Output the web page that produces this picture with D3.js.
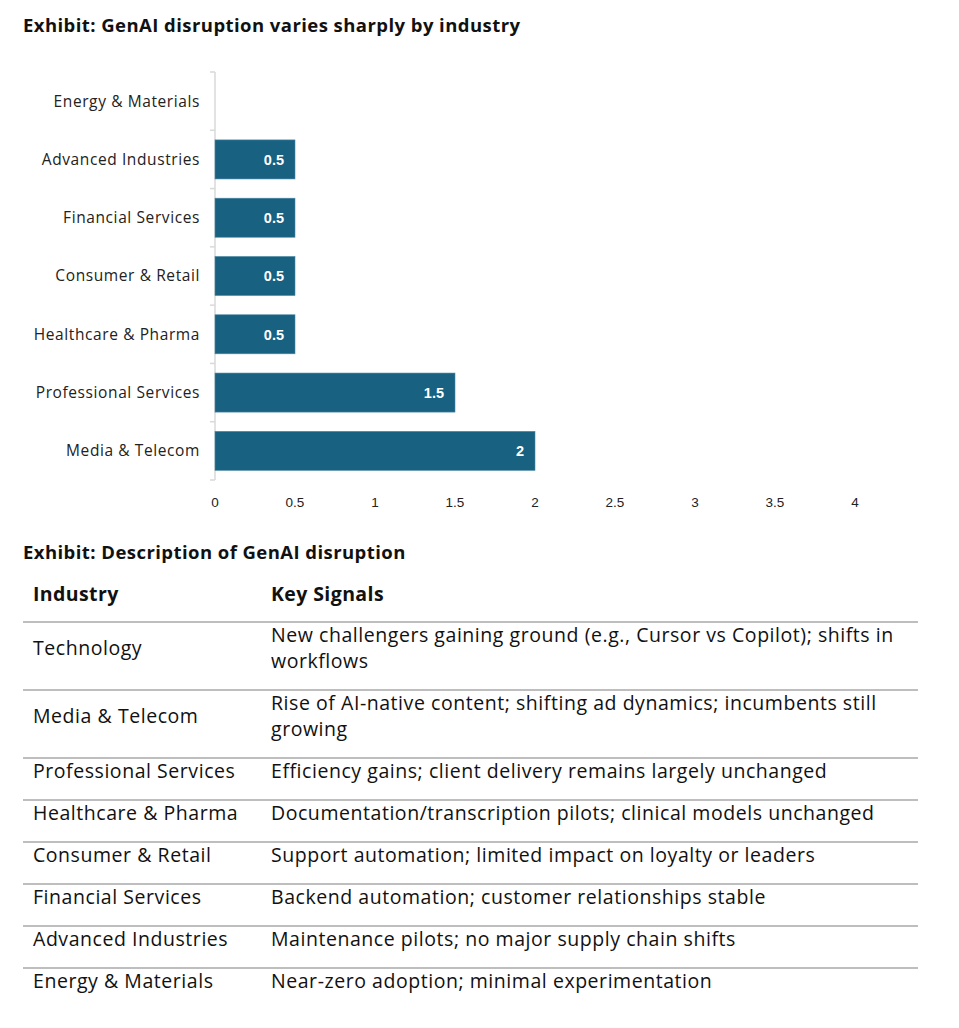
<!DOCTYPE html>
<html>
<head>
<meta charset="utf-8">
<script src="https://cdn.jsdelivr.net/npm/d3@7"></script>
<style>
  body { margin: 0; background: #fff; }
  svg { display: block; }
</style>
</head>
<body>
<script>
// chart data
const categories = ["Energy & Materials", "Advanced Industries", "Financial Services",
  "Consumer & Retail", "Healthcare & Pharma", "Professional Services", "Media & Telecom"];
const values = [0, 0.5, 0.5, 0.5, 0.5, 1.5, 2];
const xTicks = [0, 0.5, 1, 1.5, 2, 2.5, 3, 3.5, 4];

// table data
const tableHeader = ["Industry", "Key Signals"];
const tableIndustries = ["Technology", "Media & Telecom", "Professional Services",
  "Healthcare & Pharma", "Consumer & Retail", "Financial Services",
  "Advanced Industries", "Energy & Materials"];
const tableSignals = [
  ["New challengers gaining ground (e.g., Cursor vs Copilot); shifts in", "workflows"],
  ["Rise of AI-native content; shifting ad dynamics; incumbents still", "growing"],
  ["Efficiency gains; client delivery remains largely unchanged"],
  ["Documentation/transcription pilots; clinical models unchanged"],
  ["Support automation; limited impact on loyalty or leaders"],
  ["Backend automation; customer relationships stable"],
  ["Maintenance pilots; no major supply chain shifts"],
  ["Near-zero adoption; minimal experimentation"]
];

const W = 959, H = 1028;
const svg = d3.select("body").append("svg")
  .attr("width", W)
  .attr("height", H);

const textFont = "'Open Sans', Lato, sans-serif";
const numFont = "'Liberation Sans', Arial, sans-serif";

// title
svg.append("text")
  .attr("x", 23).attr("y", 32)
  .style("font-family", textFont)
  .style("font-weight", 700)
  .style("font-size", "18.5px")
  .style("letter-spacing", "0.44px")
  .style("fill", "#111")
  .text("Exhibit: GenAI disruption varies sharply by industry");

// bar chart
const x = d3.scaleLinear().domain([0, 4]).range([215, 855]);
const y = d3.scaleBand().domain(categories).range([72, 480]).paddingInner(0.33).paddingOuter(0.165);

const g = svg.append("g");

// axis line and ticks at band boundaries
g.append("line")
  .attr("x1", x(0)).attr("x2", x(0))
  .attr("y1", 72).attr("y2", 480)
  .attr("stroke", "#d9d9d9").attr("stroke-width", 1.5);

const step = y.step();
const bounds = d3.range(categories.length + 1).map(i => 72 + i * step);
g.selectAll(".ytick").data(bounds).join("line")
  .attr("x1", x(0) - 5).attr("x2", x(0))
  .attr("y1", d => d).attr("y2", d => d)
  .attr("stroke", "#d9d9d9").attr("stroke-width", 1.5);

g.selectAll(".bar").data(categories).join("rect")
  .attr("x", x(0))
  .attr("y", d => y(d))
  .attr("width", (d, i) => x(values[i]) - x(0))
  .attr("height", y.bandwidth())
  .attr("fill", "#186181")
  .attr("stroke", (d, i) => values[i] > 0 ? "#4f8aa5" : "none")
  .attr("stroke-width", 0.6);

g.selectAll(".cat").data(categories).join("text")
  .attr("x", 200)
  .attr("y", d => y(d) + y.bandwidth() / 2)
  .attr("dy", "0.35em")
  .attr("text-anchor", "end")
  .style("font-family", textFont)
  .style("font-size", "15.5px")
  .style("letter-spacing", "0.6px")
  .style("fill", "#222")
  .text(d => d);

g.selectAll(".val").data(categories.filter((d, i) => values[i] > 0)).join("text")
  .attr("x", d => x(values[categories.indexOf(d)]) - 11)
  .attr("y", d => y(d) + y.bandwidth() / 2)
  .attr("dy", "0.36em")
  .attr("text-anchor", "end")
  .style("font-family", numFont)
  .style("font-weight", 700)
  .style("font-size", "14.5px")
  .style("fill", "#fff")
  .text(d => values[categories.indexOf(d)]);

g.selectAll(".xt").data(xTicks).join("text")
  .attr("x", d => x(d))
  .attr("y", 502)
  .attr("dy", "0.35em")
  .attr("text-anchor", "middle")
  .style("font-family", numFont)
  .style("font-size", "13.5px")
  .style("fill", "#222")
  .text(d => d);

// table section
svg.append("text")
  .attr("x", 23).attr("y", 559)
  .style("font-family", textFont)
  .style("font-weight", 700)
  .style("font-size", "18.5px")
  .style("letter-spacing", "0.44px")
  .style("fill", "#111")
  .text("Exhibit: Description of GenAI disruption");

const col1 = 33, col2 = 271;
const lineH = 26;
const tableFont = "19.5px";
const tableSpacing = "0.55px";

svg.selectAll(".th").data(tableHeader).join("text")
  .attr("x", (d, i) => i === 0 ? col1 : col2)
  .attr("y", 594)
  .attr("dy", "0.35em")
  .style("font-family", textFont)
  .style("font-weight", 700)
  .style("font-size", tableFont)
  .style("letter-spacing", "0.4px")
  .style("fill", "#111")
  .text(d => d);

// row tops
let rowTop = 622;
const rows = tableIndustries.map((ind, i) => {
  const n = tableSignals[i].length;
  const h = n > 1 ? 68 : 42;
  const r = { ind, lines: tableSignals[i], top: rowTop, h };
  rowTop += h;
  return r;
});

const tline = (yy) => svg.append("line")
  .attr("x1", 23).attr("x2", 918)
  .attr("y1", yy).attr("y2", yy)
  .attr("stroke", "#7f7f7f").attr("stroke-width", 1.2);

tline(622);
rows.forEach((r, i) => {
  if (i > 0) tline(r.top);
  svg.append("text")
    .attr("x", col1)
    .attr("y", r.top + 13 + (r.lines.length - 1) * lineH / 2)
    .attr("dy", "0.35em")
    .style("font-family", textFont)
    .style("font-size", tableFont)
    .style("letter-spacing", tableSpacing)
    .style("fill", "#111")
    .text(r.ind);
  r.lines.forEach((ln, j) => {
    svg.append("text")
      .attr("x", col2)
      .attr("y", r.top + 13 + j * lineH)
      .attr("dy", "0.35em")
      .style("font-family", textFont)
      .style("font-size", tableFont)
      .style("letter-spacing", tableSpacing)
      .style("fill", "#111")
      .text(ln);
  });
});
</script>
</body>
</html>
